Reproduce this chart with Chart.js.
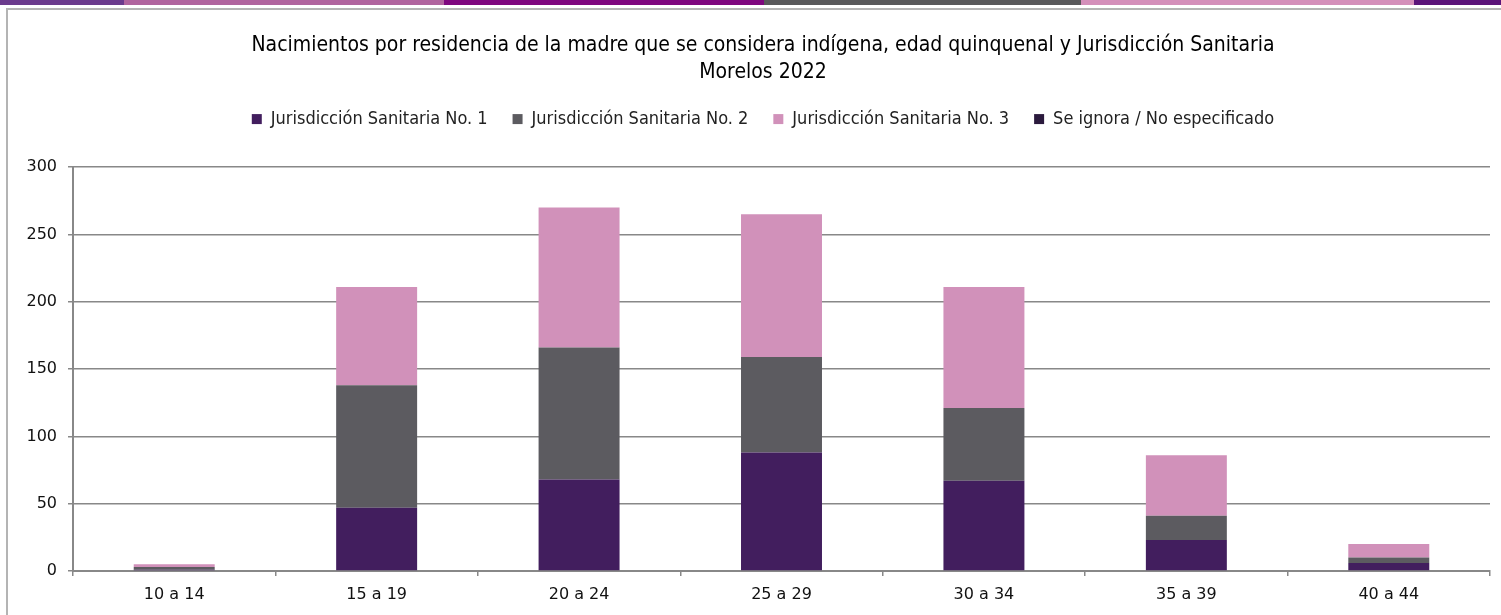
<!DOCTYPE html>
<html><head><meta charset="utf-8">
<script src="https://cdn.jsdelivr.net/npm/chart.js@4.4.0/dist/chart.umd.min.js"></script>
<style>
html,body{margin:0;padding:0;background:#fff;width:1501px;height:615px;overflow:hidden;position:relative}
.seg{position:absolute;top:0;height:5px}
#frame{position:absolute;left:6px;top:8px;width:1600px;height:700px;border-left:2px solid #b4b4b4;border-top:2px solid #b4b4b4}
#wrap{position:absolute;left:0;top:0;width:1501px;height:615px}
</style></head><body>
<div class="seg" style="left:0;width:124px;background:#6b3b8d"></div>
<div class="seg" style="left:124px;width:320px;background:#b0649e"></div>
<div class="seg" style="left:444px;width:320px;background:#7e077e"></div>
<div class="seg" style="left:764px;width:317px;background:#58585a"></div>
<div class="seg" style="left:1081px;width:333px;background:#d48fba"></div>
<div class="seg" style="left:1414px;width:87px;background:#5b1479"></div>
<div id="frame"></div>
<div id="wrap"><canvas id="c" width="1501" height="615"></canvas></div>
<script>
const categories = ["10 a 14","15 a 19","20 a 24","25 a 29","30 a 34","35 a 39","40 a 44"];
const jurisdiccion1 = [1, 47, 68, 88, 67, 23, 6];
const jurisdiccion2 = [2, 91, 98, 71, 54, 18, 4];
const jurisdiccion3 = [2, 73, 104, 106, 90, 45, 10];
const seIgnora = [0, 0, 0, 0, 0, 0, 0];
const seriesNames = ["Jurisdicción Sanitaria No. 1","Jurisdicción Sanitaria No. 2","Jurisdicción Sanitaria No. 3","Se ignora / No especificado"];
const titleLines = ["Nacimientos por residencia de la madre que se considera indígena, edad quinquenal y Jurisdicción Sanitaria","Morelos 2022"];

const narrow = '"Liberation Sans Narrow","DejaVu Sans Condensed","Arial Narrow",sans-serif';
const colors = ["#421e5e","#5c5b60","#d191ba","#2b1a3d"];
const values = [jurisdiccion1, jurisdiccion2, jurisdiccion3, seIgnora];

// shift title and legend so they are centred over the plot area like the original
const centreOverPlot = {
  id: 'centreOverPlot',
  beforeDraw(chart) {
    const shift = 36;
    if (chart.titleBlock) { chart.titleBlock.left = shift; }
    if (chart.legend) { chart.legend.left = shift; }
  }
};

new Chart(document.getElementById('c'), {
  type: 'bar',
  data: {
    labels: categories,
    datasets: values.map((v,i)=>({
      label: seriesNames[i], data: v, backgroundColor: colors[i],
      borderWidth: 0, barPercentage: 0.4, categoryPercentage: 1.0
    }))
  },
  plugins: [centreOverPlot],
  options: {
    responsive: false, animation: false,
    layout: { padding: { left: 0, right: 11, top: 0, bottom: 0 } },
    plugins: {
      tooltip: { enabled: false },
      title: {
        display: true, text: titleLines, color: '#000',
        font: { family: narrow, size: 21, weight: 'normal', lineHeight: 1.24 },
        padding: { top: 33, bottom: 0 }
      },
      subtitle: {
        display: true, text: '', weight: 500,
        font: { size: 10, lineHeight: 1 },
        padding: { top: 0, bottom: 19 }
      },
      legend: {
        display: true, position: 'top',
        labels: {
          boxWidth: 10, boxHeight: 10, padding: 25, color: '#222',
          font: { family: narrow, size: 18 }
        }
      }
    },
    scales: {
      x: {
        stacked: true, offset: true,
        grid: { display: true, offset: true, drawOnChartArea: false, drawTicks: true, tickLength: 5, color: '#888', lineWidth: 1.5 },
        border: { display: true, color: '#888', width: 2 },
        ticks: { color: '#111', font: { family: '"DejaVu Sans",sans-serif', size: 16 }, padding: 9, maxRotation: 0 },
        afterFit: s => { s.height = 44; }
      },
      y: {
        stacked: true, min: 0, max: 300,
        grid: { color: '#888', lineWidth: 1.5, tickLength: 5 },
        border: { display: true, color: '#888', width: 2 },
        ticks: { stepSize: 50, color: '#111', font: { family: '"DejaVu Sans",sans-serif', size: 16 }, padding: 11 },
        afterFit: s => { s.width = 73; }
      }
    }
  }
});
</script>
</body></html>
